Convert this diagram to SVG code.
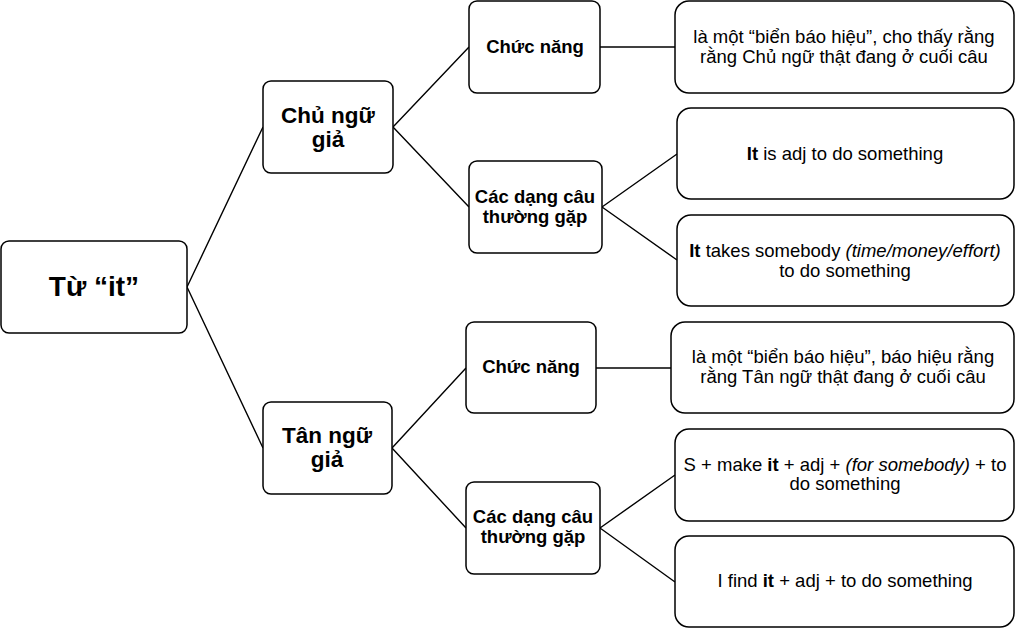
<svg xmlns="http://www.w3.org/2000/svg" width="1024" height="629" viewBox="0 0 1024 629">
<style>
.box{fill:#fff;stroke:#000;stroke-width:1.5}
.c{fill:none;stroke:#000;stroke-width:1.4}
text{font-family:"Liberation Sans",Arial,sans-serif;text-anchor:middle;fill:#000}
.b{font-weight:bold}
.t1{font-size:28px}
.t2{font-size:22.5px}
.t3{font-size:18.5px}
.l{font-size:18.5px}
</style>
<rect width="1024" height="629" fill="#fff"/>
<g id="connectors">
<path class="c" d="M187 287L263 127M187 287L263 448"/>
<path class="c" d="M393 127L469 47M393 127L469 207"/>
<path class="c" d="M600 47L675 47"/>
<path class="c" d="M602 207L677 154M602 207L677 260"/>
<path class="c" d="M392 448L466 368M392 448L466 528"/>
<path class="c" d="M596 368L671 368"/>
<path class="c" d="M600 528L675 475M600 528L675 582"/>
</g>
<g id="root">
<rect class="box" x="1" y="241" width="186" height="92" rx="8"/>
<text class="b t1" x="94" y="296">Từ “it”</text>
</g>
<g id="chu-ngu-gia">
<rect class="box" x="263" y="81" width="130" height="92" rx="8"/>
<text class="b t2" x="328" y="123">Chủ ngữ</text>
<text class="b t2" x="328" y="147">giả</text>
</g>
<g id="tan-ngu-gia">
<rect class="box" x="263" y="402" width="129" height="92" rx="8"/>
<text class="b t2" x="327" y="443">Tân ngữ</text>
<text class="b t2" x="327" y="467">giả</text>
</g>
<g id="chuc-nang-1">
<rect class="box" x="469" y="1" width="131" height="92" rx="8"/>
<text class="b t3" x="535" y="53">Chức năng</text>
</g>
<g id="cac-dang-1">
<rect class="box" x="469" y="161" width="133" height="92" rx="8"/>
<text class="b t3" x="535" y="203">Các dạng câu</text>
<text class="b t3" x="535" y="223">thường gặp</text>
</g>
<g id="chuc-nang-2">
<rect class="box" x="466" y="322" width="130" height="91" rx="8"/>
<text class="b t3" x="531" y="373">Chức năng</text>
</g>
<g id="cac-dang-2">
<rect class="box" x="466" y="482" width="134" height="92" rx="8"/>
<text class="b t3" x="533" y="523">Các dạng câu</text>
<text class="b t3" x="533" y="543">thường gặp</text>
</g>
<g id="leaf-1">
<rect class="box" x="675" y="1" width="339" height="92" rx="14"/>
<text class="l" x="844" y="43">là một “biển báo hiệu”, cho thấy rằng</text>
<text class="l" x="844" y="63">rằng Chủ ngữ thật đang ở cuối câu</text>
</g>
<g id="leaf-2">
<rect class="box" x="677" y="108" width="337" height="91" rx="14"/>
<text class="l" x="845" y="160"><tspan class="b">It</tspan> is adj to do something</text>
</g>
<g id="leaf-3">
<rect class="box" x="677" y="215" width="337" height="91" rx="14"/>
<text class="l" x="845" y="257"><tspan class="b">It</tspan> takes somebody <tspan font-style="italic">(time/money/effort)</tspan></text>
<text class="l" x="845" y="277">to do something</text>
</g>
<g id="leaf-4">
<rect class="box" x="671" y="322" width="343" height="91" rx="14"/>
<text class="l" x="843" y="363">là một “biển báo hiệu”, báo hiệu rằng</text>
<text class="l" x="843" y="383">rằng Tân ngữ thật đang ở cuối câu</text>
</g>
<g id="leaf-5">
<rect class="box" x="675" y="429" width="339" height="92" rx="14"/>
<text class="l" x="845" y="471">S + make <tspan class="b">it</tspan> + adj + <tspan font-style="italic">(for somebody)</tspan> + to</text>
<text class="l" x="845" y="490">do something</text>
</g>
<g id="leaf-6">
<rect class="box" x="675" y="536" width="339" height="91" rx="14"/>
<text class="l" x="845" y="587">I find <tspan class="b">it</tspan> + adj + to do something</text>
</g>
</svg>
